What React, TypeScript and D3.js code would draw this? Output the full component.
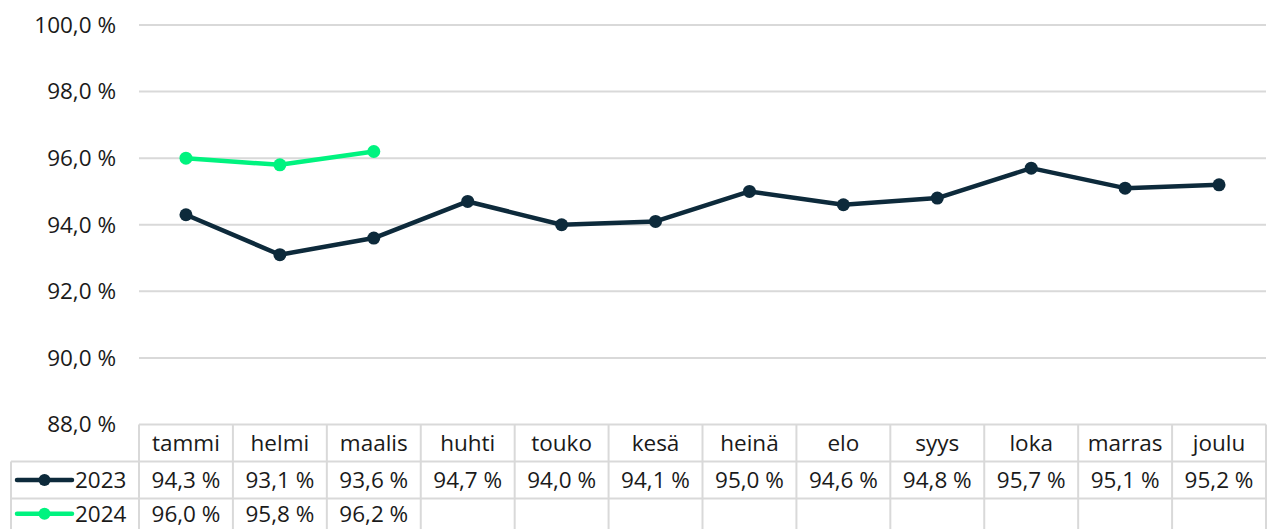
import React from "react";
import * as d3 from "d3";

const months = ["tammi", "helmi", "maalis", "huhti", "touko", "kesä", "heinä", "elo", "syys", "loka", "marras", "joulu"];
const values2023 = [94.3, 93.1, 93.6, 94.7, 94.0, 94.1, 95.0, 94.6, 94.8, 95.7, 95.1, 95.2];
const values2024 = [96.0, 95.8, 96.2];
const yTicks = [88, 90, 92, 94, 96, 98, 100];
const seriesNames = ["2023", "2024"];

const W = 1269, H = 529;
const left = 139, right = 1266;
const top = 25, bottom = 424.5;
const font = "'Open Sans', sans-serif";
const fs = 22.5;
const textColor = "#1a1a1a";
const gridColor = "#d9d9d9";
const colors = ["#0d2a3b", "#00f37f"];

export default function App() {
  const x = d3.scaleBand<string>().domain(months).range([left, right]);
  const y = d3.scaleLinear().domain([88, 100]).range([bottom, top]);
  const fmt = (v: number) => v.toFixed(1).replace(".", ",") + " %";
  const line = d3.line<number>().x((_, i) => (x(months[i]) as number) + x.bandwidth() / 2).y((d) => y(d));
  const series = [values2023, values2024];
  const rowTops = [424.5, 461.5, 498.5, 529];
  const legendLeft = 11;

  return (
    <div style={{ position: "absolute", left: 0, top: 0 }}>
      <svg width={W} height={H} style={{ display: "block", fontFamily: font }}>
        <rect width={W} height={H} fill="#fff" />
        {yTicks.map((t) => (
          <g key={t}>
            {t !== 88 && <line x1={left} x2={right} y1={y(t)} y2={y(t)} stroke={gridColor} strokeWidth={2} />}
            <text x={116} y={y(t)} dy="0.35em" textAnchor="end" fontSize={fs} fill={textColor}>{fmt(t)}</text>
          </g>
        ))}
        {/* table */}
        <g stroke={gridColor} strokeWidth={2} fill="none">
          <line x1={left} x2={right} y1={rowTops[0]} y2={rowTops[0]} />
          <line x1={legendLeft} x2={right} y1={rowTops[1]} y2={rowTops[1]} />
          <line x1={legendLeft} x2={right} y1={rowTops[2]} y2={rowTops[2]} />
          <line x1={legendLeft} x2={legendLeft} y1={rowTops[1]} y2={H} />
          {months.map((m) => (
            <line key={m} x1={x(m) as number} x2={x(m) as number} y1={rowTops[0]} y2={H} />
          ))}
          <line x1={right} x2={right} y1={rowTops[0]} y2={H} />
        </g>
        {months.map((m) => (
          <text key={m} x={(x(m) as number) + x.bandwidth() / 2} y={(rowTops[0] + rowTops[1]) / 2} dy="0.35em" textAnchor="middle" fontSize={fs} fill={textColor}>{m}</text>
        ))}
        {series.map((vals, si) => {
          const cy = (rowTops[si + 1] + rowTops[si + 2]) / 2;
          return (
            <g key={si}>
              {vals.map((v, i) => (
                <text key={i} x={(x(months[i]) as number) + x.bandwidth() / 2} y={cy} dy="0.35em" textAnchor="middle" fontSize={fs} fill={textColor}>{fmt(v)}</text>
              ))}
              <line x1={17} x2={72} y1={cy} y2={cy} stroke={colors[si]} strokeWidth={4.5} strokeLinecap="round" />
              <circle cx={44.5} cy={cy} r={6} fill={colors[si]} />
              <text x={75} y={cy} dy="0.35em" fontSize={fs} fill={textColor}>{seriesNames[si]}</text>
            </g>
          );
        })}
        {series.map((vals, si) => (
          <g key={"s" + si}>
            <path d={line(vals) || ""} fill="none" stroke={colors[si]} strokeWidth={4.5} strokeLinejoin="round" />
            {vals.map((v, i) => (
              <circle key={i} cx={(x(months[i]) as number) + x.bandwidth() / 2} cy={y(v)} r={6.5} fill={colors[si]} />
            ))}
          </g>
        ))}
      </svg>
    </div>
  );
}
